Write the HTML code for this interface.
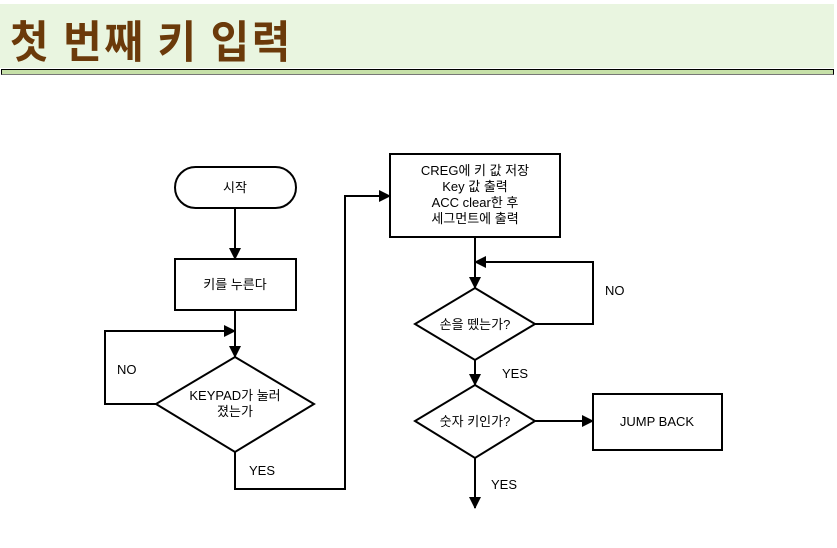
<!DOCTYPE html>
<html><head><meta charset="utf-8"><style>
body{margin:0;width:837px;height:548px;background:#fff;overflow:hidden;position:relative;font-family:"Liberation Sans","Noto Sans CJK KR",sans-serif}
.hd{position:absolute;left:0;top:4px;width:834px;height:64px;background:#e9f5e0}
.hd span{position:absolute;left:10px;top:3px;font-size:42px;font-weight:bold;color:#6b3a0a;font-family:"Noto Sans CJK KR",sans-serif;letter-spacing:2.5px;transform:scaleY(1.05);transform-origin:left top}
.bar{position:absolute;left:1px;top:69px;width:831px;height:4px;background:#c6e0a8;border:1px solid #000;border-bottom:1px solid #777}
</style></head><body>
<div class="hd"><span>첫 번째 키 입력</span></div>
<div class="bar"></div>
<svg width="837" height="548" style="position:absolute;left:0;top:0" font-family="Liberation Sans, Noto Sans CJK KR, sans-serif" font-size="13">
<defs><marker id="a" markerWidth="12" markerHeight="12" refX="11" refY="6" orient="auto" markerUnits="userSpaceOnUse"><path d="M0,0 L12,6 L0,12z" fill="#000"/></marker></defs>
<g fill="none" stroke="#000" stroke-width="2">
<rect x="175" y="167" width="121" height="41" rx="20.5" fill="#fff"/>
<rect x="175" y="259" width="121" height="51" fill="#fff"/>
<polygon points="235,357 314,404 235,452 156,404" fill="#fff"/>
<rect x="390" y="154" width="170" height="83" fill="#fff"/>
<polygon points="475,288 535,324 475,360 415,324" fill="#fff"/>
<polygon points="475,385 535,421 475,458 415,421" fill="#fff"/>
<rect x="593" y="394" width="129" height="56" fill="#fff"/>
<path d="M235,208 V259" marker-end="url(#a)"/>
<path d="M235,310 V357" marker-end="url(#a)"/>
<path d="M156,404 H105 V331 H235" marker-end="url(#a)"/>
<path d="M235,452 V489 H345 V196 H390" marker-end="url(#a)"/>
<path d="M475,237 V288" marker-end="url(#a)"/>
<path d="M535,324 H593 V262 H475" marker-end="url(#a)"/>
<path d="M475,360 V385" marker-end="url(#a)"/>
<path d="M535,421 H593" marker-end="url(#a)"/>
<path d="M475,458 V508" marker-end="url(#a)"/>
</g>
<g fill="#000" text-anchor="middle">
<text x="235" y="192">시작</text>
<text x="235" y="289">키를 누른다</text>
<text x="235" y="400">KEYPAD가 눌러</text>
<text x="235" y="416">졌는가</text>
<text x="475" y="175">CREG에 키 값 저장</text>
<text x="475" y="191">Key 값 출력</text>
<text x="475" y="207">ACC clear한 후</text>
<text x="475" y="223">세그먼트에 출력</text>
<text x="475" y="329">손을 뗐는가?</text>
<text x="475" y="426">숫자 키인가?</text>
<text x="657" y="426">JUMP BACK</text>
</g>
<g fill="#000">
<text x="117" y="374">NO</text>
<text x="249" y="475">YES</text>
<text x="605" y="295">NO</text>
<text x="502" y="378">YES</text>
<text x="491" y="489">YES</text>
</g>
</svg>
</body></html>
